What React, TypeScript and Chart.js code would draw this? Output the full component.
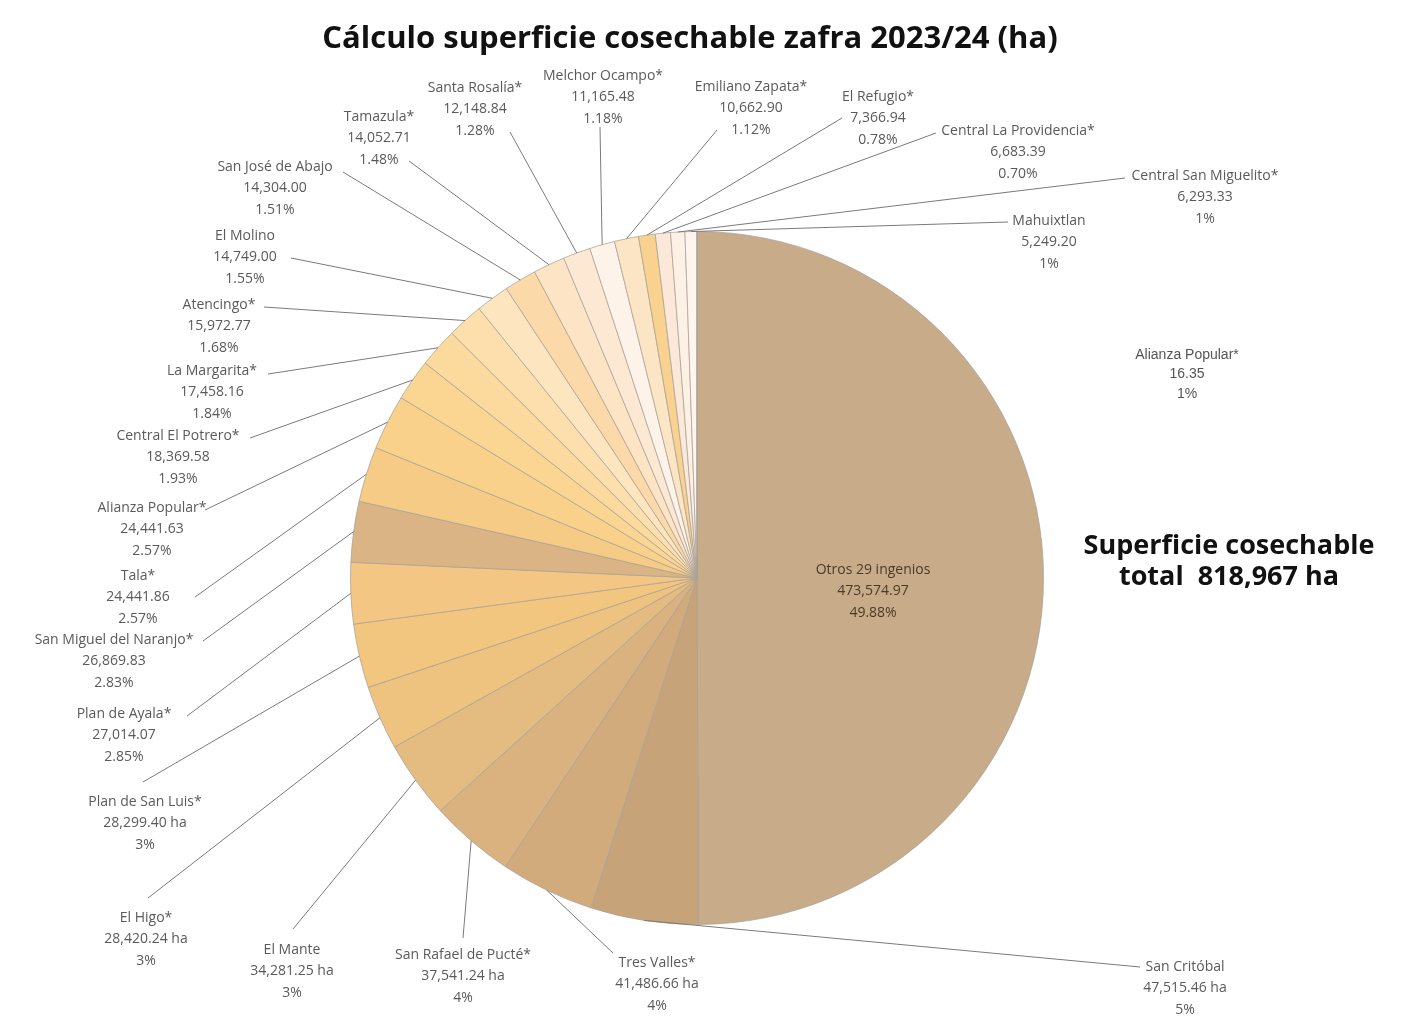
import React, { useEffect, useRef } from "react";
import { Chart, registerables } from "chart.js";

Chart.register(...registerables);

// ---------- data ----------
const titleText = "Cálculo superficie cosechable zafra 2023/24 (ha)";
const totalLines = ["Superficie cosechable", "total  818,967 ha"];

const categories = [
  "Otros 29 ingenios",
  "San Critóbal",
  "Tres Valles*",
  "San Rafael de Pucté*",
  "El Mante",
  "El Higo*",
  "Plan de San Luis*",
  "Plan de Ayala*",
  "San Miguel del Naranjo*",
  "Tala*",
  "Alianza Popular*",
  "Central El Potrero*",
  "La Margarita*",
  "Atencingo*",
  "El Molino",
  "San José de Abajo",
  "Tamazula*",
  "Santa Rosalía*",
  "Melchor Ocampo*",
  "Emiliano Zapata*",
  "El Refugio*",
  "Central La Providencia*",
  "Central San Miguelito*",
  "Mahuixtlan",
  "Alianza Popular*",
];

const values = [
  473574.97, 47515.46, 41486.66, 37541.24, 34281.25, 28420.24, 28299.4,
  27014.07, 26869.83, 24441.86, 24441.63, 18369.58, 17458.16, 15972.77,
  14749.0, 14304.0, 14052.71, 12148.84, 11165.48, 10662.9, 7366.94, 6683.39,
  6293.33, 5249.2, 16.35,
];

const percentLabels = [
  "49.88%", "5%", "4%", "4%", "3%", "3%", "3%", "2.85%", "2.83%", "2.57%",
  "2.57%", "1.93%", "1.84%", "1.68%", "1.55%", "1.51%", "1.48%", "1.28%",
  "1.18%", "1.12%", "0.78%", "0.70%", "1%", "1%", "1%",
];

const unitLabels = [
  "", " ha", " ha", " ha", " ha", " ha", " ha", "", "", "", "", "", "", "",
  "", "", "", "", "", "", "", "", "", "", "",
];

// ---------- styles / layout ----------
const sliceColors = [
  "#c8ab88", "#c7a379", "#d2ab7c", "#d9b27f", "#e4bb80", "#eec27f",
  "#f2c67f", "#f3c783", "#dbb486", "#f6cb85", "#f9d18b", "#fbd693",
  "#fcd99c", "#fddfad", "#fde5c0", "#fbd9a8", "#fde4c5", "#fde9d3",
  "#fef3e8", "#fce5c5", "#f8d28e", "#fbe8d9", "#fdf0e4", "#fef6ee",
  "#fef8f2",
];

// label layout: text centre x, first line y, leader attach point (ax, ay)
type LabelPos = { x: number; y: number; ax?: number; ay?: number } | null;
const labelLayout: LabelPos[] = [
  null,
  { x: 1185, y: 967, ax: 1140, ay: 967 },
  { x: 657, y: 963, ax: 613, ay: 953 },
  { x: 463, y: 955, ax: 463, ay: 938 },
  { x: 292, y: 950, ax: 293, ay: 929 },
  { x: 146, y: 918, ax: 148, ay: 898 },
  { x: 145, y: 802, ax: 143, ay: 782 },
  { x: 124, y: 714, ax: 187, ay: 716 },
  { x: 114, y: 640, ax: 203, ay: 641 },
  { x: 138, y: 576, ax: 195, ay: 597 },
  { x: 152, y: 508, ax: 205, ay: 510 },
  { x: 178, y: 436, ax: 250, ay: 438 },
  { x: 212, y: 371, ax: 268, ay: 374 },
  { x: 219, y: 305, ax: 264, ay: 307 },
  { x: 245, y: 236, ax: 291, ay: 258 },
  { x: 275, y: 167, ax: 343, ay: 172 },
  { x: 379, y: 117, ax: 409, ay: 161 },
  { x: 475, y: 88, ax: 510, ay: 132 },
  { x: 603, y: 76, ax: 600, ay: 127 },
  { x: 751, y: 87, ax: 717, ay: 130 },
  { x: 878, y: 97, ax: 842, ay: 118 },
  { x: 1018, y: 131, ax: 936, ay: 133 },
  { x: 1205, y: 176, ax: 1125, ay: 178 },
  { x: 1049, y: 221, ax: 1008, ay: 222 },
  { x: 1187, y: 355 },
];

const LINE_H = 21.5;
const LABEL_FONT = "14px 'Open Sans', 'Noto Sans', sans-serif";
const LABEL_COLOR = "#5a5a5a";
const LEADER_COLOR = "#7a7a7a";

function fmt(v: number) {
  return v.toLocaleString("en-US", { minimumFractionDigits: 2, maximumFractionDigits: 2 });
}

const labelsPlugin = {
  id: "customLabels",
  afterDraw(chart: any) {
    const ctx: CanvasRenderingContext2D = chart.ctx;
    const meta = chart.getDatasetMeta(0);
    ctx.save();

    // title
    ctx.fillStyle = "#111111";
    ctx.font = "bold 31px 'Open Sans', 'Noto Sans', sans-serif";
    ctx.textAlign = "center";
    ctx.textBaseline = "middle";
    ctx.fillText(titleText, 690, 39);

    // total
    ctx.font = "bold 27px 'Open Sans', 'Noto Sans', sans-serif";
    ctx.fillText(totalLines[0], 1229, 546);
    ctx.fillText(totalLines[1], 1229, 577);

    // leader lines
    ctx.strokeStyle = LEADER_COLOR;
    ctx.lineWidth = 1;
    meta.data.forEach((arc: any, i: number) => {
      const lp = labelLayout[i];
      if (!lp || lp.ax === undefined || lp.ay === undefined) return;
      const { x, y, startAngle, endAngle, outerRadius } = arc.getProps(
        ["x", "y", "startAngle", "endAngle", "outerRadius"],
        true
      );
      const mid = (startAngle + endAngle) / 2;
      const ex = x + Math.cos(mid) * outerRadius;
      const ey = y + Math.sin(mid) * outerRadius;
      ctx.beginPath();
      ctx.moveTo(lp.ax, lp.ay);
      ctx.lineTo(ex, ey);
      ctx.stroke();
    });

    // labels
    meta.data.forEach((arc: any, i: number) => {
      const lines = [categories[i], fmt(values[i]) + unitLabels[i], percentLabels[i]];
      let cx: number;
      let cy: number;
      let lh = LINE_H;
      const lp = labelLayout[i];
      if (!lp) {
        const { x, y, startAngle, endAngle, outerRadius } = arc.getProps(
          ["x", "y", "startAngle", "endAngle", "outerRadius"],
          true
        );
        const mid = (startAngle + endAngle) / 2;
        cx = x + Math.cos(mid) * outerRadius * 0.508;
        cy = y + Math.sin(mid) * outerRadius * 0.508 - 8;
        ctx.fillStyle = "#4a3a28";
        ctx.font = LABEL_FONT;
      } else if (lp.ax === undefined) {
        cx = lp.x;
        cy = lp.y;
        lh = 19.5;
        ctx.fillStyle = "#555555";
        ctx.font = "14px 'Liberation Sans', Arial, sans-serif";
      } else {
        cx = lp.x;
        cy = lp.y;
        ctx.fillStyle = LABEL_COLOR;
        ctx.font = LABEL_FONT;
      }
      ctx.textAlign = "center";
      ctx.textBaseline = "middle";
      lines.forEach((t, k) => ctx.fillText(t, cx, cy + k * lh));
    });

    ctx.restore();
  },
};

export default function App() {
  const canvasRef = useRef<HTMLCanvasElement | null>(null);

  useEffect(() => {
    document.body.style.margin = "0";
    document.body.style.background = "#ffffff";
    const canvas = canvasRef.current;
    if (!canvas) return;
    const chart = new Chart(canvas, {
      type: "pie",
      data: {
        labels: categories,
        datasets: [
          {
            data: values,
            backgroundColor: sliceColors,
            borderColor: "rgba(170,160,150,0.75)",
            borderWidth: 1,
            hoverOffset: 0,
          },
        ],
      },
      options: {
        responsive: false,
        animation: false,
        events: [],
        layout: { padding: { left: 350, top: 231, right: 379, bottom: 100 } },
        plugins: {
          legend: { display: false },
          tooltip: { enabled: false },
          title: { display: false },
        },
      },
      plugins: [labelsPlugin],
    });
    return () => chart.destroy();
  }, []);

  return (
    <div style={{ width: 1423, height: 1025, background: "#fff" }}>
      <canvas ref={canvasRef} width={1423} height={1025} style={{ display: "block" }} />
    </div>
  );
}
